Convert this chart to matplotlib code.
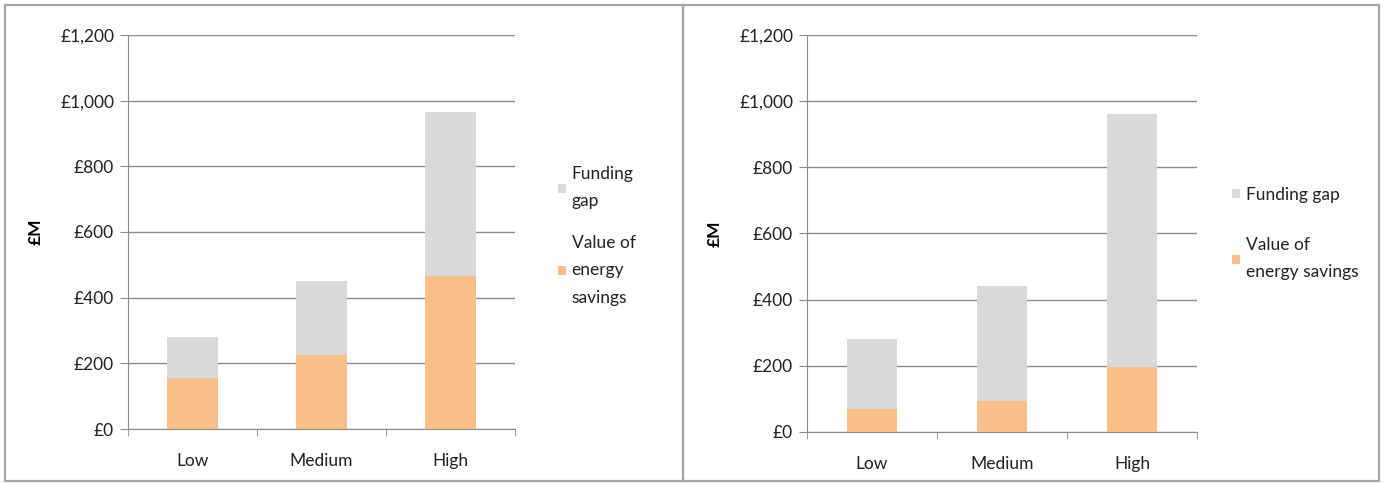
import matplotlib
matplotlib.use('Agg')
import matplotlib.pyplot as plt
from matplotlib.patches import Rectangle
from matplotlib.ticker import FuncFormatter, MultipleLocator

plt.rcParams['font.family'] = ['Lato', 'DejaVu Sans']

# Scenario data (£M)
categories = ['Low', 'Medium', 'High']
savings_a = [155, 225, 465]
gap_a = [125, 225, 500]
savings_b = [70, 95, 195]
gap_b = [212, 347, 765]

orange = '#F9BF8B'
grey = '#D9D9D9'
line_grey = '#8C8C8C'

fig = plt.figure(figsize=(13.86, 4.83), dpi=100)
W, H = 1386, 483


def px_axes(x0, y0, x1, y1):
    return fig.add_axes([x0 / W, 1 - y1 / H, (x1 - x0) / W, (y1 - y0) / H])


# panel frames
for x0, x1 in [(5, 683), (683, 1379)]:
    fig.add_artist(Rectangle((x0 / W, 1 - 481 / H), (x1 - x0) / W, 476 / H,
                             transform=fig.transFigure, fill=False,
                             edgecolor='#A6A6A6', linewidth=1.6))


def draw_panel(ax, savings, gap, legend_labels, legend_anchor, spacing):
    x = range(len(categories))
    b1 = ax.bar(x, savings, width=0.39, color=orange, zorder=3)
    b2 = ax.bar(x, gap, width=0.39, bottom=savings, color=grey, zorder=3)
    ax.set_xlim(-0.5, 2.5)
    ax.set_ylim(0, 1200)
    ax.yaxis.set_major_locator(MultipleLocator(200))
    ax.yaxis.set_major_formatter(FuncFormatter(lambda v, p: '£{:,.0f}'.format(v)))
    ax.set_xticks(list(x))
    ax.set_xticklabels(categories)
    ax.set_xticks([-0.5, 0.5, 1.5, 2.5], minor=True)
    ax.tick_params(axis='x', which='major', length=0, pad=17, labelsize=12.5, labelcolor='#222222')
    ax.tick_params(axis='x', which='minor', length=5, color=line_grey, direction='out')
    ax.tick_params(axis='y', length=6, color=line_grey, labelsize=12.5, labelcolor='#222222', pad=4)
    ax.grid(axis='y', color=line_grey, linewidth=1, zorder=0)
    for s in ['top', 'right']:
        ax.spines[s].set_visible(False)
    for s in ['left', 'bottom']:
        ax.spines[s].set_color(line_grey)
    ax.set_ylabel('£M', fontsize=12.5, fontweight='bold', labelpad=12)
    leg = ax.legend([b2, b1], legend_labels, loc='center left', bbox_to_anchor=legend_anchor,
                    frameon=False, fontsize=12.5, handlelength=0.45, handleheight=0.45,
                    handletextpad=0.35, labelspacing=spacing, labelcolor='#222222')
    for t in leg.get_texts():
        t.set_linespacing(1.85)


ax1 = px_axes(128, 35, 515, 429)
draw_panel(ax1, savings_a, gap_a, ['Funding\ngap', 'Value of\nenergy\nsavings'], (1.07, 0.49), 1.5)

ax2 = px_axes(807, 35, 1197, 432)
draw_panel(ax2, savings_b, gap_b, ['Funding gap', 'Value of\nenergy savings'], (1.05, 0.50), 2.0)

fig.savefig('out.png', dpi=100, facecolor='white')
